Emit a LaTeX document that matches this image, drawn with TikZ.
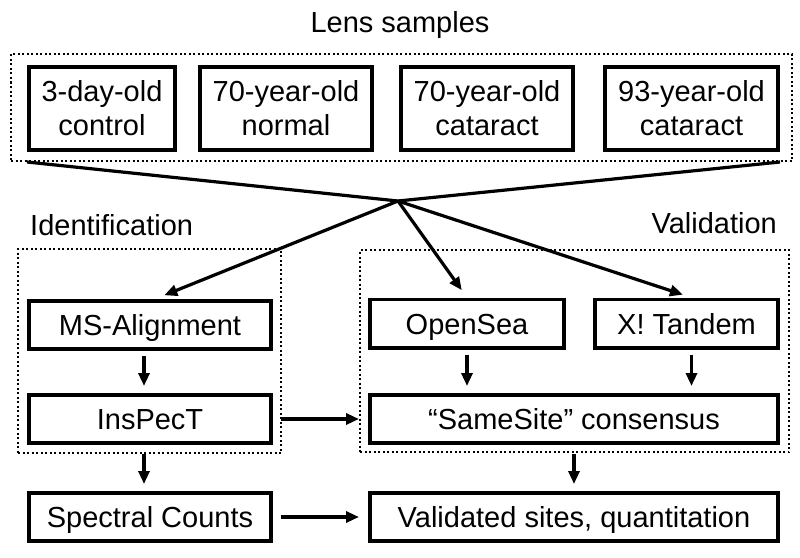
\documentclass[tikz,border=0pt]{standalone}
\usepackage{fontspec}
\setmainfont{Liberation Sans}
\usetikzlibrary{arrows.meta}

\newcommand*{\boxh}{52}
\newcommand*{\toph}{87}

\begin{document}
\begin{tikzpicture}
[
	x=1pt, y=-1pt,
	every node/.style={font=\fontsize{29}{34}\selectfont},
	sample/.style={draw, line width=3.6pt, inner sep=0pt, align=center, minimum height=\toph-3.6},
	stage/.style={draw, line width=3.6pt, inner sep=0pt, text height=21pt, text depth=0pt, minimum height=\boxh-3.6},
	group/.style={draw, line width=2pt, dash pattern=on 2pt off 2.5pt, inner sep=0pt},
	title/.style={inner sep=0pt},
	link/.style={line width=3.2pt},
	flow/.style={link, -{Triangle[length=13pt,width=11pt]}}
]
	\useasboundingbox (0,0) rectangle (800,557);

	% frames
	\node[group, minimum width=781, minimum height=107] (samples) at (401.5,107.5) {};
	\node[group, minimum width=263, minimum height=204] (ident) at (149.5,351) {};
	\node[group, minimum width=429, minimum height=202] (valid) at (574.5,351) {};

	% titles
	\node[title, anchor=base] (lens) at (400,32) {Lens samples};
	\node[title, anchor=base west] (idlabel) at (30,235) {Identification};
	\node[title, anchor=base east] (valabel) at (777,233) {Validation};

	% lens samples
	\node[sample, minimum width=146.4] (s1) at (102,108.5) {3-day-old\\control};
	\node[sample, minimum width=172.4] (s2) at (286,108.5) {70-year-old\\normal};
	\node[sample, minimum width=172.4] (s3) at (487,108.5) {70-year-old\\cataract};
	\node[sample, minimum width=173.4] (s4) at (691.5,108.5) {93-year-old\\cataract};

	% identification
	\node[stage, minimum width=242.4] (msalign) at (150,325) {MS-Alignment};
	\node[stage, minimum width=242.4] (inspect) at (150,419) {InsPecT};
	\node[stage, minimum width=242.4] (counts) at (150,517) {Spectral Counts};

	% validation
	\node[stage, minimum width=194.4] (opensea) at (467,323.5) {OpenSea};
	\node[stage, minimum width=183.4] (tandem) at (686.5,323.5) {X! Tandem};
	\node[stage, minimum width=408.4] (samesite) at (574,419) {``SameSite'' consensus};
	\node[stage, minimum width=408.4] (sites) at (574,517) {Validated sites, quantitation};

	% merge
	\coordinate (hub) at (398,201);
	\draw[link] (s1.west |- samples.south) -- (hub) -- (s4.east |- samples.south);
	\draw[flow, shorten >=10pt] (hub) -- ([xshift=5pt]msalign.north);
	\draw[flow, shorten >=9pt] (hub) -- (opensea.north);
	\draw[flow, shorten >=9pt] (hub) -- ([xshift=5pt]tandem.north);

	% steps
	\draw[flow, shorten <=5pt, shorten >=7pt] ([xshift=-6pt]msalign.south) -- ([xshift=-6pt]inspect.north);
	\draw[flow, shorten <=9pt, shorten >=7pt] ([xshift=-6pt]inspect.south) -- ([xshift=-6pt]counts.north);
	\draw[flow, shorten <=5pt, shorten >=7pt] (opensea.south) -- (opensea.south |- samesite.north);
	\draw[flow, shorten <=5pt, shorten >=7pt] ([xshift=5pt]tandem.south) -- ([xshift=5pt]tandem.south |- samesite.north);
	\draw[flow, shorten <=9pt, shorten >=7pt] (samesite.south) -- (sites.north);
	\draw[flow, shorten <=8pt, shorten >=9pt] (inspect.east) -- (samesite.west);
	\draw[flow, shorten <=8pt, shorten >=9pt] (counts.east) -- (sites.west);

\end{tikzpicture}
\end{document}
